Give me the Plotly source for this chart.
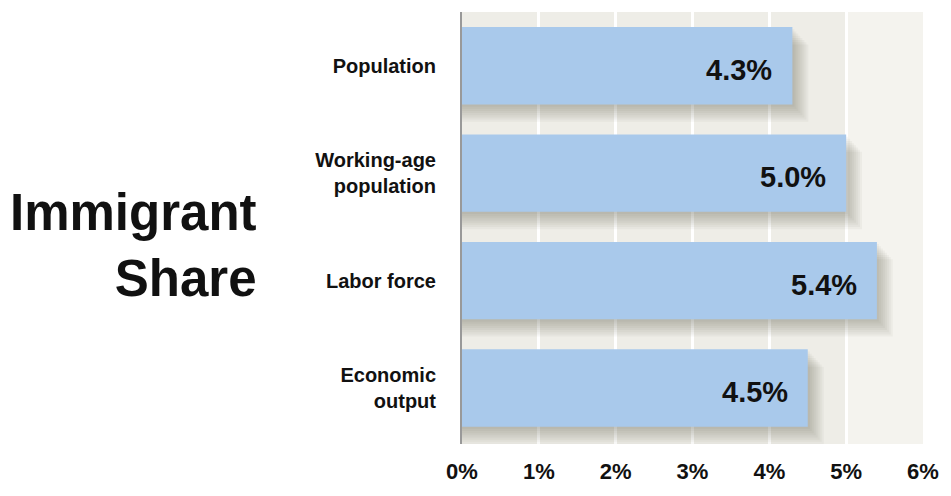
import plotly.graph_objects as go

categories = ["Population", "Working-age<br>population", "Labor force", "Economic<br>output"]
values = [4.3, 5.0, 5.4, 4.5]
value_labels = ["4.3%", "5.0%", "5.4%", "4.5%"]
tick_vals = [0, 1, 2, 3, 4, 5, 6]
tick_text = ["0%", "1%", "2%", "3%", "4%", "5%", "6%"]

FONT = "Liberation Sans Narrow, Arial Narrow, Liberation Sans, Arial, sans-serif"
BAR_W = 0.72
PX_PER_CAT = 109.0
PX_PER_X = 77.3

fig = go.Figure()

# soft drop shadow (layered translucent bars)
for k in range(1, 9):
    dy = 2.2 * k / PX_PER_CAT
    dx = 2.0 * k / PX_PER_X
    fig.add_trace(go.Bar(
        y=categories, x=[v + dx for v in values], orientation="h",
        width=BAR_W, offset=-BAR_W / 2 + dy,
        marker=dict(color="rgba(70,65,55,0.045)", line=dict(width=0)),
        hoverinfo="skip",
    ))

fig.add_trace(go.Bar(
    y=categories, x=values, orientation="h",
    width=BAR_W, offset=-BAR_W / 2,
    marker=dict(color="#A9C9EB", line=dict(width=0)),
    hoverinfo="skip",
))

for c, v, t in zip(categories, values, value_labels):
    fig.add_annotation(x=v, y=c, text="<b>%s</b>" % t, showarrow=False,
                       xanchor="right", xshift=-18, yshift=-4,
                       font=dict(family=FONT, size=29, color="#111111"))

# lighter last column
fig.add_shape(type="rect", xref="x", yref="paper", x0=5, x1=6, y0=0, y1=1,
              fillcolor="#F4F3EE", line=dict(width=0), layer="below")

fig.add_annotation(xref="paper", yref="paper", x=-0.44, y=0.46,
                   text="<b>Immigrant<br>Share</b>", showarrow=False,
                   xanchor="right", yanchor="middle", align="right",
                   font=dict(family=FONT, size=51, color="#111111"))

fig.update_layout(
    width=951, height=496,
    margin=dict(l=462, r=25, t=12, b=48),
    paper_bgcolor="white",
    plot_bgcolor="#EEEDE7",
    barmode="overlay",
    showlegend=False,
    xaxis=dict(range=[0, 6], tickvals=tick_vals, ticktext=["<b>%s</b>" % s for s in tick_text],
               showgrid=True, gridcolor="white", gridwidth=3, zeroline=False,
               tickfont=dict(family=FONT, size=22, color="#111111"),
               ticks="", ticklabelstandoff=12, fixedrange=True),
    yaxis=dict(autorange="reversed", showline=True, linecolor="#999999", linewidth=2,
               showgrid=False, ticks="",
               tickvals=categories, ticktext=["<b>%s</b>" % c for c in categories],
               tickfont=dict(family=FONT, size=20, color="#111111"),
               ticklabelstandoff=20, fixedrange=True),
)

fig.write_html("out.html")
